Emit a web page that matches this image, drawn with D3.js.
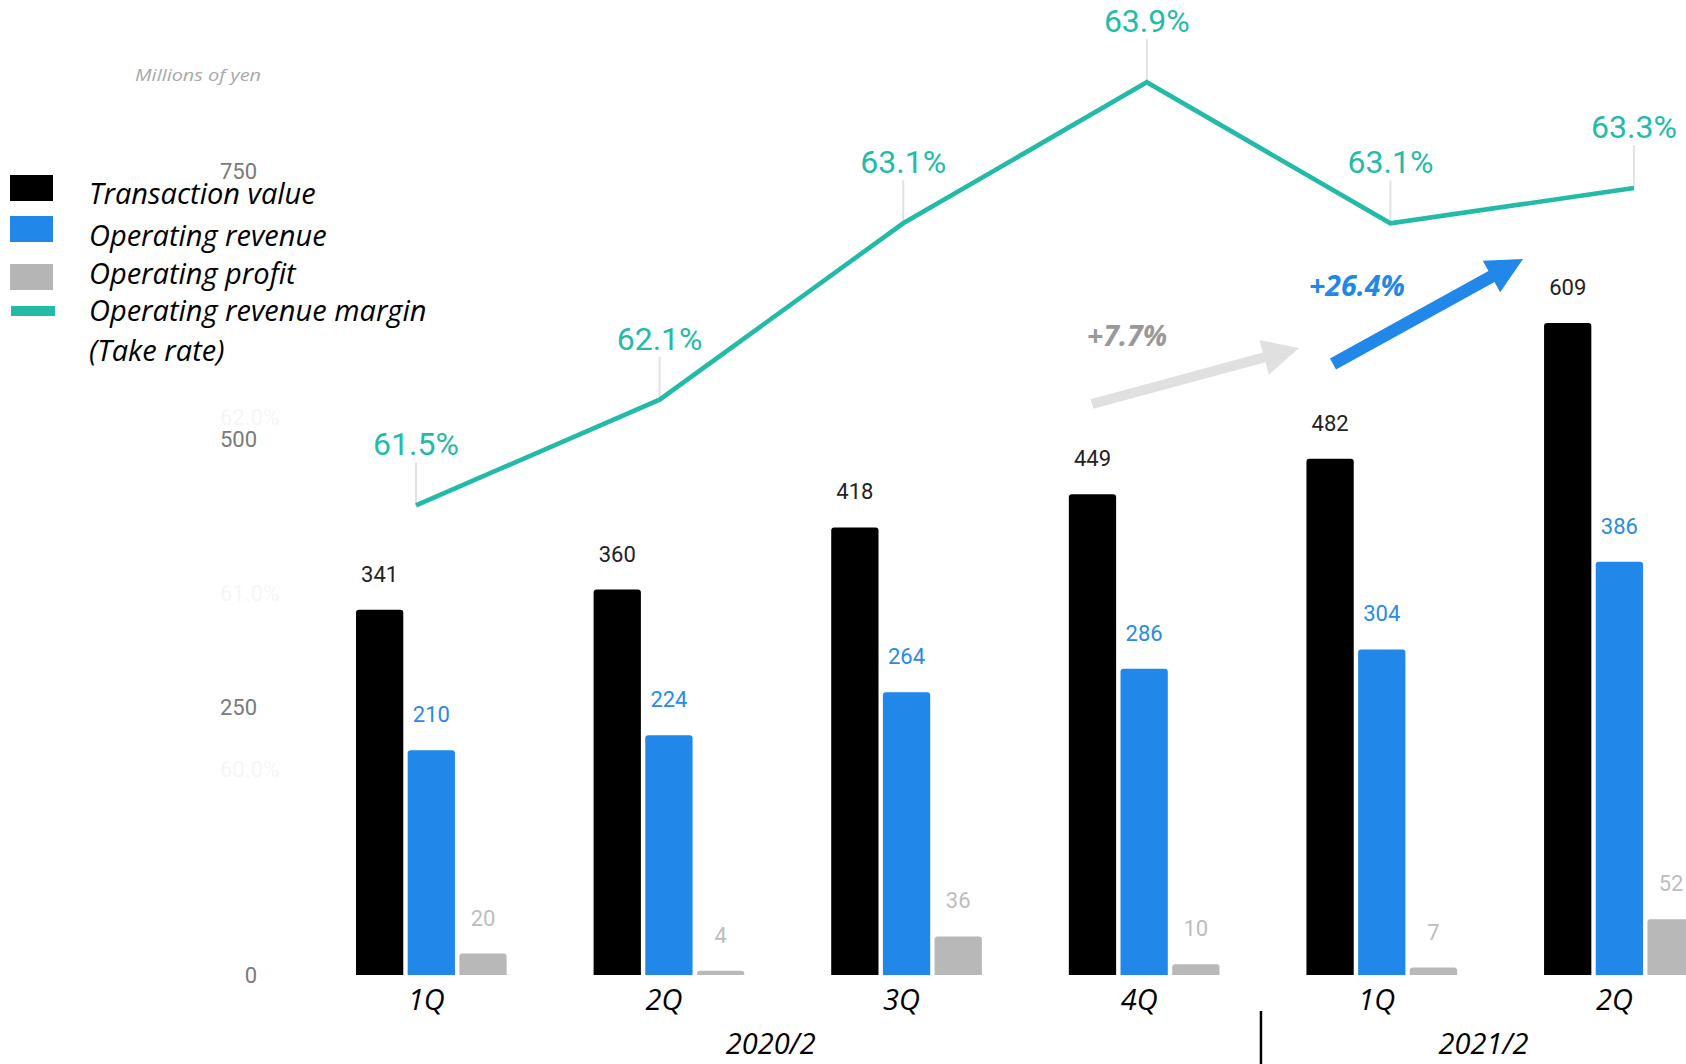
<!DOCTYPE html>
<html>
<head>
<meta charset="utf-8">
<script src="https://cdn.jsdelivr.net/npm/d3@7/dist/d3.min.js"></script>
<style>
  html, body { margin: 0; padding: 0; background: #fff; overflow: hidden; }
  svg { display: block; }
</style>
</head>
<body>
<svg id="chart" width="1686" height="1064"></svg>
<script>
// Quarterly results, fiscal years ending February
const quarters = ["1Q", "2Q", "3Q", "4Q", "1Q", "2Q"];
const fiscalYears = ["2020/2", "2021/2"];
const quarterYear = [0, 0, 0, 0, 1, 1];

const transactionValue = [341, 360, 418, 449, 482, 609];
const operatingRevenue = [210, 224, 264, 286, 304, 386];
const operatingProfit = [20, 4, 36, 10, 7, 52];
const takeRate = [61.5, 62.1, 63.1, 63.9, 63.1, 63.3];

const yTicks = [0, 250, 500, 750];
const rateTicks = [60, 61, 62];

const seriesNames = ["Transaction value", "Operating revenue", "Operating profit"];
const seriesColors = ["#000000", "#2187e9", "#b8b8b8"];
const labelColors = ["#222222", "#2a8ae6", "#bdbdbd"];
const lineColor = "#23bba8";

const growthNotes = [
  { text: "+7.7%", color: "#999999", arrow: "#e0e0e0" },
  { text: "+26.4%", color: "#2187e8", arrow: "#2187e8" }
];

const italicFont = "'Open Sans', 'DejaVu Sans', sans-serif";

const svg = d3.select("#chart");
const idx = d3.range(quarters.length);
const seriesData = [transactionValue, operatingRevenue, operatingProfit];

// scales
const x = d3.scaleBand().domain(idx).range([356, 1694.7]).paddingInner(0.366).paddingOuter(0);
const xs = d3.scaleBand().domain([0, 1, 2]).range([0, x.bandwidth()]).paddingInner(0.085);
const y = d3.scaleLinear().domain([0, 750]).range([975, 171.9]);
const xl = d3.scalePoint().domain(idx).range([416, 1634]);
const yl = d3.scaleLinear().domain([60, 64]).range([769.9, 64.6]);

// faint secondary (rate) axis labels
const rateAxis = d3.axisLeft(yl).tickValues(rateTicks).tickSize(0).tickPadding(0)
  .tickFormat(d => d3.format(".1f")(d) + "%");
svg.append("g").attr("transform", "translate(279,0)").call(rateAxis)
  .call(g => g.select(".domain").remove())
  .selectAll("text").attr("fill", "#f6f6f6")
  .style("font-family", "Roboto").style("font-size", "22px");

// left axis
const yAxis = d3.axisLeft(y).tickValues(yTicks).tickSize(0).tickPadding(0);
svg.append("g").attr("transform", "translate(257,0)").call(yAxis)
  .call(g => g.select(".domain").remove())
  .selectAll("text").attr("fill", "#7a7a7a")
  .style("font-family", "Roboto").style("font-size", "22px");

svg.append("text").attr("x", 135).attr("y", 81)
  .attr("fill", "#a8a8a8").style("font-family", italicFont).style("font-style", "italic")
  .style("font-size", "17px").attr("textLength", 126).attr("lengthAdjust", "spacingAndGlyphs")
  .text("Millions of yen");

// bar with rounded top corners
function topRounded(x0, y0, w, h, r) {
  r = Math.min(r, h, w / 2);
  return `M${x0},${y0 + h}V${y0 + r}Q${x0},${y0} ${x0 + r},${y0}H${x0 + w - r}Q${x0 + w},${y0} ${x0 + w},${y0 + r}V${y0 + h}Z`;
}

const groups = svg.append("g").selectAll("g").data(idx).join("g")
  .attr("transform", i => `translate(${x(i)},0)`);

groups.selectAll("path").data(i => seriesData.map((s, k) => ({ k, v: s[i] }))).join("path")
  .attr("d", d => topRounded(xs(d.k), y(d.v), xs.bandwidth(), y(0) - y(d.v), 3))
  .attr("fill", d => seriesColors[d.k]);

groups.selectAll("text").data(i => seriesData.map((s, k) => ({ k, v: s[i] }))).join("text")
  .attr("x", d => xs(d.k) + xs.bandwidth() / 2)
  .attr("y", d => y(d.v) - 28)
  .attr("text-anchor", "middle")
  .attr("fill", d => labelColors[d.k])
  .style("font-family", "Roboto").style("font-size", "22px")
  .text(d => d.v);

// take-rate line
const line = d3.line().x(i => xl(i)).y(i => yl(takeRate[i]));
const lg = svg.append("g");
lg.selectAll("line").data(idx).join("line")
  .attr("x1", i => xl(i)).attr("x2", i => xl(i))
  .attr("y1", i => yl(takeRate[i]) - 43).attr("y2", i => yl(takeRate[i]))
  .attr("stroke", "#e2e2e2").attr("stroke-width", 2);
lg.append("path").datum(idx).attr("d", line)
  .attr("fill", "none").attr("stroke", lineColor).attr("stroke-width", 4.6)
  .attr("stroke-linejoin", "miter");
lg.selectAll("text").data(idx).join("text")
  .attr("x", i => xl(i)).attr("y", i => yl(takeRate[i]) - 50)
  .attr("text-anchor", "middle").attr("fill", lineColor)
  .style("font-family", "Roboto").style("font-size", "32px")
  .text(i => d3.format(".1f")(takeRate[i]) + "%");

// x axis: quarters and fiscal years
const xAxis = d3.axisBottom(x).tickSize(0).tickPadding(0).tickFormat(i => quarters[i]);
svg.append("g").attr("transform", "translate(-5,1010)").call(xAxis)
  .call(g => g.select(".domain").remove())
  .selectAll("text").attr("dy", 0).attr("fill", "#000")
  .style("font-family", italicFont).style("font-style", "italic").style("font-size", "29px");

fiscalYears.forEach((fy, j) => {
  const members = idx.filter(i => quarterYear[i] === j);
  const cx = d3.mean(members, i => x(i) + x.bandwidth() / 2) - 17;
  svg.append("text").attr("x", cx).attr("y", 1054).attr("text-anchor", "middle")
    .attr("fill", "#000").style("font-family", italicFont).style("font-style", "italic")
    .style("font-size", "29px").text(fy);
});
const splitX = (x(3) + x.bandwidth() + x(4)) / 2 - 2;
svg.append("line").attr("x1", splitX).attr("x2", splitX).attr("y1", 1011).attr("y2", 1064)
  .attr("stroke", "#000").attr("stroke-width", 2.5);

// growth arrows
function arrowPath(x1, y1, x2, y2, sw, hl, hw) {
  const a = Math.atan2(y2 - y1, x2 - x1), c = Math.cos(a), s = Math.sin(a);
  const L = Math.hypot(x2 - x1, y2 - y1);
  const pt = (u, v) => [x1 + u * c - v * s, y1 + u * s + v * c];
  const pts = [pt(0, -sw / 2), pt(L - hl, -sw / 2), pt(L - hl, -hw / 2), pt(L, 0),
               pt(L - hl, hw / 2), pt(L - hl, sw / 2), pt(0, sw / 2)];
  return "M" + pts.map(p => p.join(",")).join("L") + "Z";
}
const arrowGeom = [
  { a: [1092, 404, 1299, 348, 10, 36, 36], t: [1127, 346] },
  { a: [1333, 364, 1523, 259, 12.5, 36, 36], t: [1357, 296] }
];
arrowGeom.forEach((g, j) => {
  svg.append("path").attr("d", arrowPath(...g.a)).attr("fill", growthNotes[j].arrow);
  svg.append("text").attr("x", g.t[0]).attr("y", g.t[1]).attr("text-anchor", "middle")
    .attr("fill", growthNotes[j].color).style("font-family", italicFont)
    .style("font-style", "italic").style("font-weight", "bold").style("font-size", "28.5px")
    .text(growthNotes[j].text);
});

// legend
const legendRows = [
  { label: seriesNames[0], color: seriesColors[0], sy: 175, ty: 204 },
  { label: seriesNames[1], color: seriesColors[1], sy: 216, ty: 246 },
  { label: seriesNames[2], color: "#b5b5b5", sy: 264, ty: 284 }
];
const lgd = svg.append("g");
legendRows.forEach(r => {
  lgd.append("rect").attr("x", 10).attr("y", r.sy).attr("width", 43).attr("height", 26).attr("fill", r.color);
  lgd.append("text").attr("x", 89).attr("y", r.ty).text(r.label);
});
lgd.append("rect").attr("x", 11).attr("y", 306).attr("width", 44).attr("height", 10).attr("fill", lineColor);
lgd.append("text").attr("x", 89).attr("y", 321).text("Operating revenue margin");
lgd.append("text").attr("x", 89).attr("y", 361).text("(Take rate)");
lgd.selectAll("text").attr("fill", "#000").style("font-family", italicFont)
  .style("font-style", "italic").style("font-size", "29px");
</script>
</body>
</html>
